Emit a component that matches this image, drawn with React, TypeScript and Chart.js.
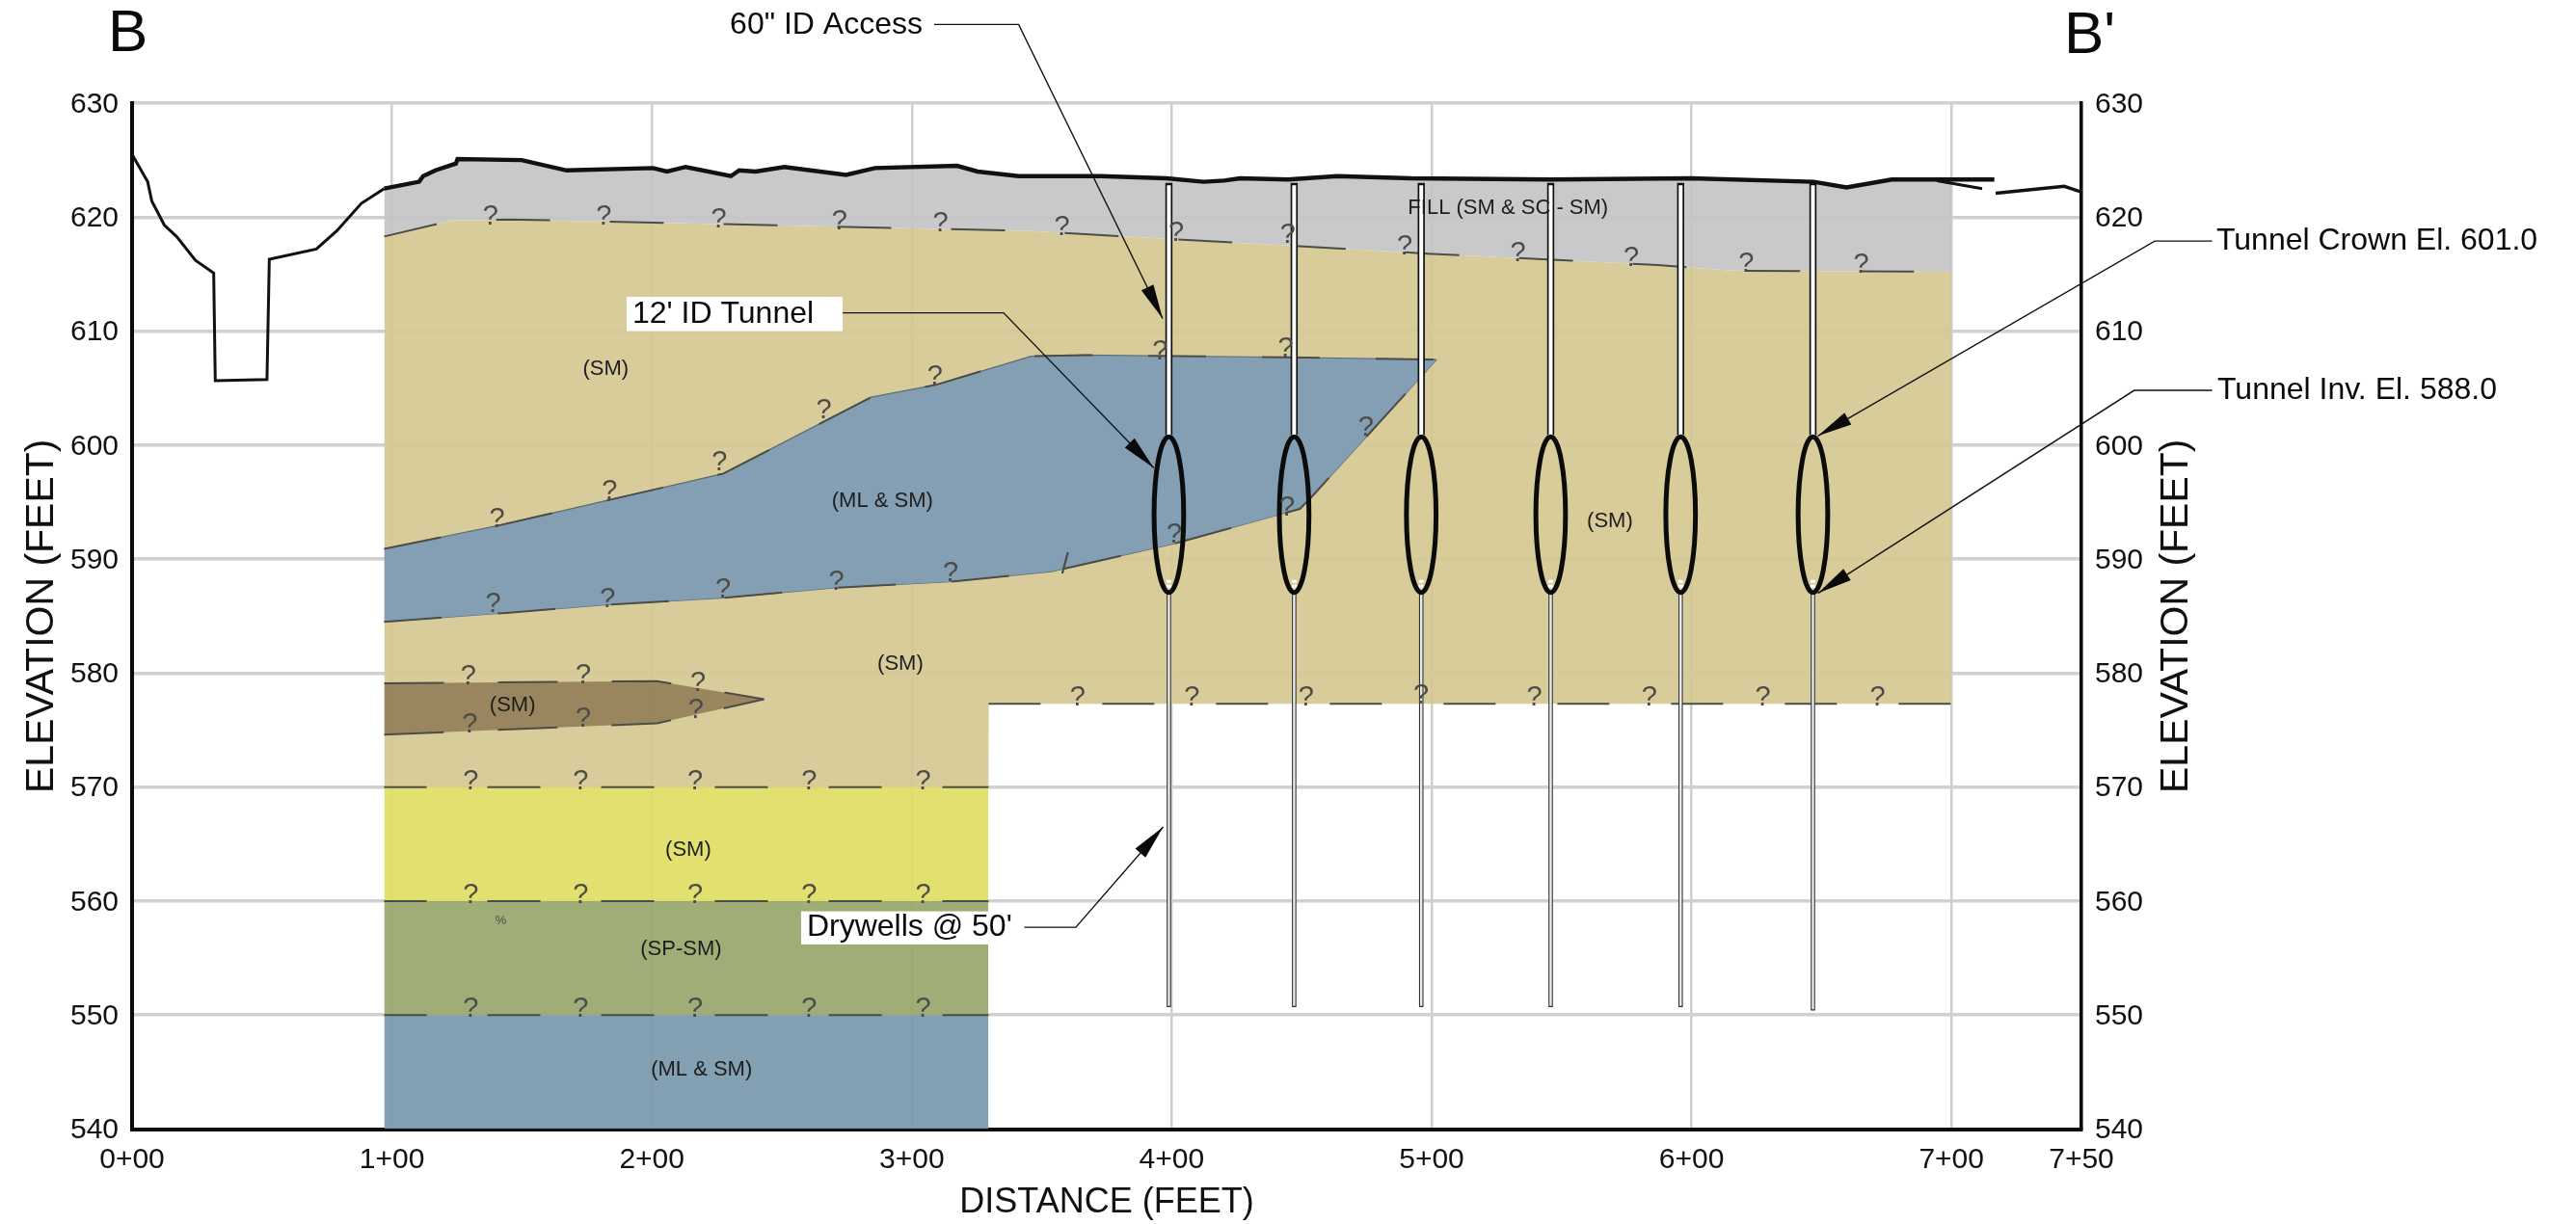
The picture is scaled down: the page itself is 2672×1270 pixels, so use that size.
import React, { useEffect, useRef } from "react";
import { Chart, registerables } from "chart.js";

Chart.register(...registerables);

type Pt = [number, number];

// ---------- axes ----------
const xTickValues = [0, 100, 200, 300, 400, 500, 600, 700, 750];
const xTickLabels = ["0+00", "1+00", "2+00", "3+00", "4+00", "5+00", "6+00", "7+00", "7+50"];

// ---------- ground surface (distance ft, elevation ft) ----------
const groundLeft: Pt[] = [
  [0, 625.5], [6, 623.1], [7.6, 621.4], [12.4, 619.3], [17.1, 618.3], [24.4, 616.2], [31.4, 615.1],
  [32, 605.65], [51.9, 605.75], [52.8, 616.3], [70.9, 617.2], [78.8, 618.8], [88.2, 621.2], [97, 622.5],
];
const groundMain: Pt[] = [
  [97, 622.5], [110.4, 623.1], [112, 623.6], [116.7, 624.1], [124.6, 624.7], [125.2, 625.1], [149.9, 625],
  [167.2, 624.1], [200.4, 624.3], [205.8, 624], [213, 624.4], [230.4, 623.6], [233.6, 624.1], [239.9, 624],
  [251, 624.4], [274.7, 623.7], [285.8, 624.3], [317.4, 624.5], [325.3, 624], [341.1, 623.6], [353.7, 623.6],
  [372.7, 623.6], [398, 623.4], [412.2, 623.1], [420.1, 623.2], [426.4, 623.4], [444.7, 623.3], [463.7, 623.6],
  [492, 623.4], [545.8, 623.3], [599.6, 623.4], [647, 623.1], [659.6, 622.6], [677, 623.3], [700, 623.3], [716.5, 623.3],
];
const groundBranch: Pt[] = [[694.4, 623.2], [711.8, 622.5]];
const groundRight: Pt[] = [[717, 622.1], [743.4, 622.7], [750, 622.2]];

// ---------- strata boundaries ----------
const fillBase: Pt[] = [
  [97, 618.3], [123, 619.7], [145, 619.8], [344.2, 618.8], [398, 618.1], [444.7, 617.5], [498.4, 616.8],
  [542.7, 616.3], [587, 615.8], [615.4, 615.3], [700, 615.2],
];
const tanBase: Pt[] = [[97, 570], [329.5, 570], [329.6, 577.3], [700, 577.3]];
const lowerStrataX = [97, 329.5];
const yellowTop = 570;
const yellowBase = 560;
const greenBase = 550;
const slateBase = 540;
const lowerContact: Pt[] = [[329.5, 577.3], [700, 577.3]];

const blueTop: Pt[] = [
  [97, 590.9], [142, 593], [227.5, 597.5], [284.3, 604.2], [309.5, 605.3], [345.9, 607.8], [366.5, 607.9],
  [444.7, 607.7], [501.9, 607.5],
];
const blueBase: Pt[] = [
  [97, 584.5], [145, 585.3], [183, 586], [227.5, 586.6], [271.5, 587.5], [314.3, 588], [353.7, 588.9],
  [401.7, 591.4], [449.3, 594.4], [453.6, 595.4], [501.9, 607.5],
];
const brownTop: Pt[] = [[97, 579.1], [202, 579.3], [243.1, 577.7]];
const brownBase: Pt[] = [[97, 574.6], [202, 575.6], [243.1, 577.7]];

// ---------- tunnels and drywells ----------
const tunnelX = [398.9, 447.1, 496, 545.8, 595.8, 646.7];
const tunnelCrown = 600.72;
const tunnelInvert = 587.08;
const tunnelHalfWidth = 5.7;
const shaftTop = 623;
const shaftBase = 600.9;
const wellTop = 587;
const wellBase = [550.7, 550.7, 550.7, 550.7, 550.7, 550.4];

// ---------- question marks on uncertain contacts ----------
const queryMarks: Pt[] = [
  [137.9, 620], [181.5, 620], [225.7, 619.8], [272.2, 619.6], [311, 619.4], [357.8, 619.1], [401.7, 618.6], [444.7, 618.4],
  [489.6, 617.4], [533.2, 616.8], [576.8, 616.4], [621, 615.9], [665.3, 615.8],
  [140.4, 593.5], [183.7, 595.9], [226, 598.5], [266.2, 603], [308.9, 606], [395.5, 608.2], [443.8, 608.4], [474.7, 601.5],
  [138.9, 586], [183, 586.5], [227.4, 587.3], [271, 588], [314.9, 588.7], [401, 592.1], [444.4, 594.5],
  [129.4, 579.7], [173.6, 579.8], [217.8, 579.1], [129.9, 575.5], [173.6, 576], [216.9, 576.7],
  [130.3, 570.5], [172.6, 570.5], [216.6, 570.5], [260.5, 570.5], [304.4, 570.5],
  [130.3, 560.5], [172.6, 560.5], [216.6, 560.5], [260.5, 560.5], [304.4, 560.5],
  [130.3, 550.5], [172.6, 550.5], [216.6, 550.5], [260.5, 550.5], [304.4, 550.5],
  [363.8, 577.8], [407.8, 577.8], [451.7, 577.8], [495.9, 578], [539.5, 577.8], [583.8, 577.8], [627.4, 577.8], [671.6, 577.8],
];

// ---------- soil labels ----------
const soilLabels: { text: string; at: Pt }[] = [
  { text: "(SM)", at: [182.2, 606.7] },
  { text: "(ML & SM)", at: [288.7, 595.1] },
  { text: "FILL (SM & SC - SM)", at: [529.4, 620.8] },
  { text: "(SM)", at: [568.6, 593.3] },
  { text: "(SM)", at: [295.6, 580.8] },
  { text: "(SM)", at: [146.4, 577.2] },
  { text: "(SM)", at: [214, 564.5] },
  { text: "(SP-SM)", at: [211.2, 555.8] },
  { text: "(ML & SM)", at: [219.1, 545.2] },
];
const strayMark = { text: "%", at: [141.9, 558.3] as Pt };
const strayDash = { text: "/", at: [359, 589.4] as Pt };

// ---------- callouts ----------
const sectionLabels: { text: string; at: Pt }[] = [
  { text: "B", at: [-9.3, 636.0] },
  { text: "B'", at: [743.3, 635.8] },
];
const calloutLabels: { text: string; at: Pt }[] = [
  { text: '60" ID Access', at: [230, 636.8] },
  { text: "12' ID Tunnel", at: [192.5, 611.5] },
  { text: "Drywells @ 50'", at: [259.6, 557.7] },
  { text: "Tunnel Crown El. 601.0", at: [801.9, 617.9] },
  { text: "Tunnel Inv. El. 588.0", at: [802.3, 604.8] },
];
const calloutBoxes: [Pt, Pt][] = [
  [[190.3, 613], [273.4, 610]],
  [[257.4, 559.1], [329.4, 556.2]],
];
const leaders: Pt[][] = [
  [[308.6, 636.9], [341.1, 636.9], [396.5, 611.1]],
  [[267.4, 611.6], [335.3, 611.6], [393.1, 598]],
  [[343.3, 557.7], [363.1, 557.7], [396.7, 566.5]],
  [[800.3, 617.9], [778.2, 617.9], [648.6, 600.8]],
  [[800.3, 604.8], [770.3, 604.8], [648.6, 587]],
];

const FONT = '"Liberation Sans", Arial, sans-serif';
const pts = (p: Pt[]) => p.map(([x, y]) => ({ x, y }));

export default function App() {
  const ref = useRef<HTMLCanvasElement | null>(null);

  useEffect(() => {
    if (!ref.current) return;
    const ds: any[] = [];
    const add = (p: Pt[], extra: any) => {
      ds.push({ data: pts(p), pointRadius: 0, borderWidth: 0, tension: 0, fill: false, clip: false, ...extra });
      return ds.length - 1;
    };

    // strata fills (boundaries first so that fills can target them)
    const iFillBase = add(fillBase, { borderWidth: 0 });
    const iTanBase = add(tanBase, { borderWidth: 0 });
    add(groundMain.filter((g) => g[0] <= 700), { fill: { target: iFillBase }, backgroundColor: "rgba(196,196,200,0.92)" });
    add(fillBase, { fill: { target: iTanBase }, backgroundColor: "rgba(214,200,147,0.92)" });
    const rect = (top: number, base: number, color: string) =>
      add([[lowerStrataX[0], top], [lowerStrataX[1], top]], { fill: { value: base }, backgroundColor: color });
    rect(yellowTop, yellowBase, "rgba(224,222,100,0.92)");
    rect(yellowBase, greenBase, "rgba(151,167,106,0.92)");
    rect(greenBase, slateBase, "rgba(122,152,172,0.92)");
    const iBlueBase = add(blueBase, { borderColor: "#5d6c72", borderWidth: 1.2 });
    add(blueTop, { fill: { target: iBlueBase }, backgroundColor: "rgba(126,156,181,0.94)", borderColor: "#5d6c72", borderWidth: 1.2 });
    const iBrownBase = add(brownBase, { borderWidth: 0 });
    add(brownTop, { fill: { target: iBrownBase }, backgroundColor: "rgba(150,130,91,0.95)" });

    // contacts
    const contact = (p: Pt[], dash = [55, 63], offset = 11) =>
      add(p, { borderColor: "#4d4d48", borderWidth: 2, borderDash: dash, borderDashOffset: offset });
    contact(fillBase, [56, 62], 0);
    contact(blueTop, [60, 58], 0);
    contact(blueBase, [60, 58], 0);
    contact(brownTop, [62, 56], 0);
    contact(brownBase, [62, 56], 0);
    contact(lowerContact, [54, 64], 0);
    [yellowTop, yellowBase, greenBase].forEach((e) =>
      contact([[lowerStrataX[0], e], [lowerStrataX[1], e]])
    );

    // ground surface
    add(groundLeft, { borderColor: "#111", borderWidth: 3 });
    add(groundMain, { borderColor: "#111", borderWidth: 4.4 });
    add(groundBranch, { borderColor: "#111", borderWidth: 3 });
    add(groundRight, { borderColor: "#111", borderWidth: 3.4 });

    // access shafts and drywells
    tunnelX.forEach((x, i) => {
      add([[x, wellTop], [x, wellBase[i]]], { borderColor: "#333", borderWidth: 4.6 });
      add([[x, wellTop], [x, wellBase[i] + 0.1]], { borderColor: "#ececec", borderWidth: 2.4 });
      add([[x, shaftTop], [x, shaftBase]], { borderColor: "#111", borderWidth: 7.4 });
      add([[x, shaftTop - 0.2], [x, shaftBase]], { borderColor: "#fff", borderWidth: 4 });
      add([[x, tunnelInvert + 1.1], [x, tunnelInvert + 0.05]], { borderColor: "#fff", borderWidth: 5, borderDash: [3, 2] });
    });

    // leaders
    leaders.forEach((l) => add(l, { borderColor: "#111", borderWidth: 1.4 }));

    // earlier entries paint first
    ds.forEach((d, i) => (d.order = ds.length - i));

    const overlay = {
      id: "overlay",
      afterDatasetsDraw(chart: any) {
        const { ctx, scales } = chart;
        const X = (v: number) => scales.x.getPixelForValue(v);
        const Y = (v: number) => scales.y.getPixelForValue(v);
        ctx.save();

        // tunnels
        ctx.strokeStyle = "#0b0b0b";
        ctx.lineWidth = 5;
        tunnelX.forEach((x) => {
          const cy = (Y(tunnelCrown) + Y(tunnelInvert)) / 2;
          const ry = (Y(tunnelInvert) - Y(tunnelCrown)) / 2;
          const rx = X(x + tunnelHalfWidth) - X(x);
          ctx.beginPath();
          ctx.ellipse(X(x), cy, rx, ry, 0, 0, Math.PI * 2);
          ctx.stroke();
        });

        // question marks
        ctx.fillStyle = "#4b4b48";
        ctx.font = `29px ${FONT}`;
        ctx.textAlign = "center";
        ctx.textBaseline = "middle";
        queryMarks.forEach(([x, y]) => ctx.fillText("?", X(x), Y(y)));
        ctx.fillText(strayDash.text, X(strayDash.at[0]), Y(strayDash.at[1]));
        ctx.font = `13px ${FONT}`;
        ctx.fillText(strayMark.text, X(strayMark.at[0]), Y(strayMark.at[1]));

        // soil labels
        ctx.fillStyle = "#1d1d1d";
        ctx.font = `22px ${FONT}`;
        soilLabels.forEach((l) => ctx.fillText(l.text, X(l.at[0]), Y(l.at[1])));

        // callout boxes and text
        ctx.fillStyle = "#fff";
        calloutBoxes.forEach(([a, b]) => ctx.fillRect(X(a[0]), Y(a[1]), X(b[0]) - X(a[0]), Y(b[1]) - Y(a[1])));
        ctx.fillStyle = "#0a0a0a";
        ctx.textAlign = "left";
        ctx.font = `32px ${FONT}`;
        calloutLabels.forEach((l) => ctx.fillText(l.text, X(l.at[0]), Y(l.at[1])));
        ctx.font = `62px ${FONT}`;
        sectionLabels.forEach((l) => ctx.fillText(l.text, X(l.at[0]), Y(l.at[1])));

        // arrowheads
        leaders.forEach((l) => {
          const [p, q] = l.slice(-2);
          const tx = X(q[0]);
          const ty = Y(q[1]);
          const a = Math.atan2(ty - Y(p[1]), tx - X(p[0]));
          const len = 36;
          const half = 7;
          ctx.beginPath();
          ctx.moveTo(tx, ty);
          ctx.lineTo(tx - len * Math.cos(a) - half * Math.sin(a), ty - len * Math.sin(a) + half * Math.cos(a));
          ctx.lineTo(tx - len * Math.cos(a) + half * Math.sin(a), ty - len * Math.sin(a) - half * Math.cos(a));
          ctx.closePath();
          ctx.fill();
        });

        // right-hand axis title reads bottom to top, like the left one
        ctx.translate(2258, (Y(630) + Y(540)) / 2);
        ctx.rotate(-Math.PI / 2);
        ctx.textAlign = "center";
        ctx.fillStyle = "#111";
        ctx.font = `41px ${FONT}`;
        ctx.fillText("ELEVATION (FEET)", 0, 0);
        ctx.restore();
      },
    };

    const yTicks = { stepSize: 10, color: "#111", padding: 14, labelOffset: 1.5, font: { size: 30, family: FONT } };
    const chart = new Chart(ref.current, {
      type: "line",
      data: { datasets: ds },
      plugins: [overlay],
      options: {
        animation: false,
        responsive: false,
        devicePixelRatio: 1,
        events: [],
        layout: { padding: { top: 107 } },
        plugins: { legend: { display: false }, tooltip: { enabled: false }, title: { display: false } },
        elements: { line: { borderCapStyle: "butt" } },
        scales: {
          x: {
            type: "linear",
            min: 0,
            max: 750,
            afterFit: (s: any) => { s.height = 98.5; },
            afterBuildTicks: (s: any) => { s.ticks = xTickValues.map((value) => ({ value })); },
            grid: { color: "#cdcdcd", lineWidth: 2.5, drawTicks: false },
            border: { color: "#0b0b0b", width: 4 },
            ticks: {
              autoSkip: false,
              maxRotation: 0,
              padding: 14,
              color: "#111",
              font: { size: 30, family: FONT },
              callback: (v: any) => xTickLabels[xTickValues.indexOf(Number(v))] ?? "",
            },
            title: {
              display: true,
              text: "DISTANCE (FEET)",
              color: "#111",
              font: { size: 36, family: FONT },
              padding: { top: 0, bottom: 0 },
            },
          },
          y: {
            type: "linear",
            position: "left",
            min: 540,
            max: 630,
            afterFit: (s: any) => { s.width = 137; },
            grid: { color: "#d0d0d0", lineWidth: 3.5, drawTicks: false },
            border: { color: "#0b0b0b", width: 4 },
            ticks: yTicks,
            title: {
              display: true,
              text: "ELEVATION (FEET)",
              color: "#111",
              font: { size: 41, family: FONT },
              padding: { top: 19, bottom: 0 },
            },
          },
          y2: {
            type: "linear",
            position: "right",
            min: 540,
            max: 630,
            afterFit: (s: any) => { s.width = 513; },
            grid: { display: false, drawTicks: false },
            border: { color: "#0b0b0b", width: 3.5 },
            ticks: yTicks,
          },
        },
      } as any,
    });
    return () => chart.destroy();
  }, []);

  return (
    <div style={{ position: "fixed", left: 0, top: 0, width: 2672, height: 1270, background: "#fff" }}>
      <canvas ref={ref} width={2672} height={1270} style={{ display: "block" }} />
    </div>
  );
}
